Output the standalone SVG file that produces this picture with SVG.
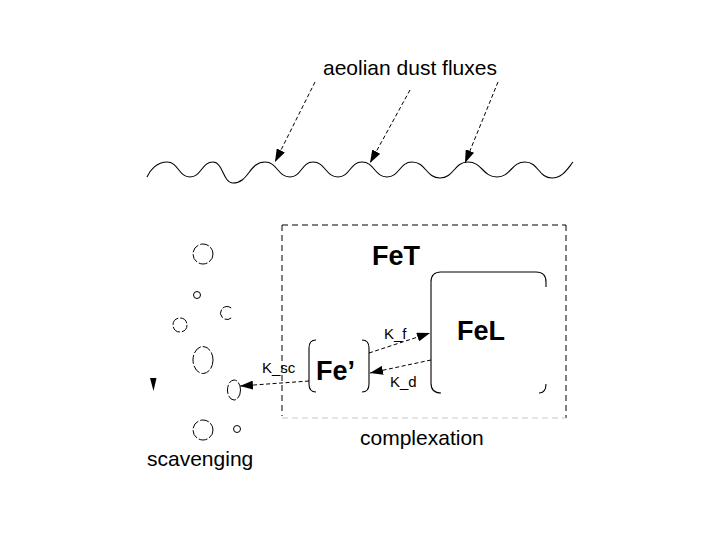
<svg xmlns="http://www.w3.org/2000/svg" width="720" height="540" viewBox="0 0 720 540">
<style>
.t{font-family:"Liberation Sans",Arial,sans-serif;fill:#000}
.b{font-weight:bold;font-size:27px}
.k{font-size:15px}
.lab{font-size:21px}
.ln{fill:none;stroke:#000;stroke-width:1.1}
.ar{fill:none;stroke:#000;stroke-width:1;stroke-dasharray:4,2.5}
.bub{fill:none;stroke:#000;stroke-width:1;stroke-dasharray:9,2}
.box{fill:none;stroke:#000;stroke-width:1;stroke-dasharray:6,4}
</style>
<defs>
<marker id="ah" markerUnits="userSpaceOnUse" markerWidth="14" markerHeight="9" refX="13" refY="4.5" orient="auto">
<path d="M0,0 L13,4.5 L0,9 Z" fill="#000"/>
</marker>
</defs>
<rect width="720" height="540" fill="#fff"/>

<g id="sea-surface">
<path class="ln" d="M147,177 C150,170 157,162 167,162 C178.5,162 178.5,177 190,177 C201.5,177 201.5,162 213,162 C223,162 223,183 233,183 C249,183 249,162 265,162 C277.5,162 277.5,177 290,177 C301.5,177 301.5,162 313,162 C325.5,162 325.5,177 338,177 C350,177 350,162 362,162 C374.5,162 374.5,177 387,177 C399.5,177 399.5,162 412,162 C426,162 426,178 440,178 C454,178 454,162 468,162 C482.5,162 482.5,177 497,177 C511,177 511,162 525,162 C538.5,162 538.5,178 552,178 C562.5,178 568,168 573,162"/>
</g>

<g id="dust-label">
<text class="t lab" x="323" y="75">aeolian dust fluxes</text>
</g>

<g id="FeT">
<line class="box" x1="282" y1="225" x2="566" y2="225"/>
<line class="box" x1="282" y1="225" x2="282" y2="416"/>
<line class="box" x1="566" y1="225" x2="566" y2="418"/>
<line class="box" x1="282" y1="418" x2="566" y2="418" style="stroke:#c8c8c8"/>
<text class="t b" x="372" y="265">FeT</text>
</g>

<g id="FeL">
<path class="ln" d="M441,393 Q431,393 431,383 L431,282 Q431,272 441,272 L536,272 Q546,272 546,282 L546,287"/>
<path class="ln" d="M546,384 Q546,393 539,393"/>
<text class="t b" x="457" y="340">FeL</text>
</g>

<g id="Fe-prime">
<path class="ln" d="M316,340 Q309,340 309,348 L309,384 Q309,392 316,392"/>
<path class="ln" d="M362,340 Q369,340 369,348 L369,384 Q369,392 362,392"/>
<text class="t b" x="316" y="380">Fe’</text>
</g>

<g id="particles">
<circle class="bub" cx="203" cy="254" r="10"/>
<circle class="bub" cx="197" cy="295" r="3.5" style="stroke-dasharray:none"/>
<path class="bub" d="M231.2,308 A6.5,6.5 0 1 0 231.2,318"/>
<circle class="bub" cx="180" cy="325" r="7"/>
<ellipse class="bub" cx="203" cy="360" rx="10" ry="13.5"/>
<ellipse class="bub" cx="234" cy="390" rx="6.5" ry="10"/>
<circle class="bub" cx="203" cy="430" r="10"/>
<circle class="bub" cx="237" cy="429" r="3.5" style="stroke-dasharray:none"/>
<polygon points="150,378 156.5,378 153.5,391" fill="#000"/>
</g>

<g id="connectors">
<line class="ar" x1="315" y1="82" x2="275" y2="162" marker-end="url(#ah)"/>
<line class="ar" x1="410" y1="90" x2="370" y2="163" marker-end="url(#ah)"/>
<line class="ar" x1="498" y1="82" x2="465" y2="163" marker-end="url(#ah)"/>
<line class="ar" x1="369" y1="353" x2="430" y2="333" marker-end="url(#ah)"/>
<line class="ar" x1="431" y1="360" x2="370" y2="373" marker-end="url(#ah)"/>
<line class="ar" x1="309" y1="381" x2="240" y2="386" marker-end="url(#ah)"/>
</g>

<g id="labels">
<text class="t k" x="384" y="339">K_f</text>
<text class="t k" x="390" y="387">K_d</text>
<text class="t k" x="262" y="373">K_sc</text>
<text class="t lab" x="360" y="445">complexation</text>
<text class="t lab" x="147" y="466">scavenging</text>
</g>
</svg>
